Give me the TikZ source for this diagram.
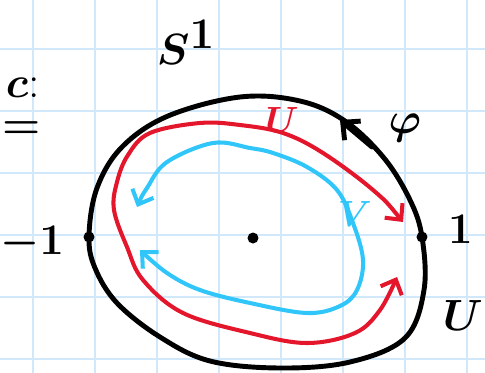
\documentclass[tikz,border=0pt]{standalone}
\usepackage{xcolor}
\usepackage{tikz}
\usepackage{amsmath}
\usetikzlibrary{
    arrows.meta,
    positioning
}
\definecolor{penred}{RGB}{228,22,44}
\definecolor{penblue}{RGB}{48,198,250}
\definecolor{gridblue}{RGB}{208,232,250}

\begin{document}
\begin{tikzpicture}[
    x=0.02cm, y=-0.02cm,
    paper/.style={draw=gridblue, line width=1.1pt},
    pen/.style={line width=2.8pt, line cap=round, line join=round},
    thinpen/.style={line width=2.3pt, line cap=round, line join=round},
    barbs/.style={-{Straight Barb[length=2.6mm, width=5mm]}},
    twobarbs/.style={{Straight Barb[length=2.4mm, width=4.6mm]}-{Straight Barb[length=2.4mm, width=4.6mm]}},
    ptdot/.style={circle, fill=black, inner sep=0pt, minimum size=0.22cm},
    hand/.style={font=\fontsize{26}{30}\selectfont\boldmath}
]
\useasboundingbox (0,0) rectangle (485,373);

\foreach \gx in {33,95,...,467}
    \draw[paper] (\gx,0) -- (\gx,373);
\foreach \gy in {49,111,...,359}
    \draw[paper] (0,\gy) -- (485,\gy);

\draw[pen] plot[smooth cycle, tension=0.6] coordinates {
    (89,236) (97,188) (122,147) (168,116) (240,97) (300,101) (345,121)
    (384,158) (410,200) (422,237) (424,290) (405,338) (350,362)
    (280,368) (210,361) (160,337) (117,303) (95,268)};
\draw[pen, barbs] (372,147) -- (340,120);

\draw[thinpen, penred, twobarbs] plot[smooth, tension=0.6] coordinates {
    (403,222) (373,190) (323,153) (283,133) (240,125) (200,123) (150,133)
    (128,155) (117,182) (114,210) (127,247) (143,280) (183,313)
    (250,333) (307,343) (355,333) (380,310) (397,277)};

\draw[thinpen, penblue, twobarbs] plot[smooth, tension=0.6] coordinates {
    (137,207) (147,188) (167,162) (213,143) (250,148) (273,153) (307,167)
    (337,190) (353,223) (363,260) (357,290) (340,306) (307,313)
    (250,303) (200,290) (167,273) (140,250)};

\node[ptdot] (mone) at (89,237) {};
\node[ptdot] (pone) at (422,237) {};
\node[ptdot] (origin) at (253,238) {};

\node[hand, left=0.26cm of mone, yshift=-0.12cm] (mlabel) {$-1$};
\node[hand, right=0.28cm of pone, yshift=0.16cm] (plabel) {$1$};
\node[font=\fontsize{44}{48}\selectfont\boldmath] (circle) at (186,42) {$S^1$};
\node[hand] (angle) at (405,128) {$\varphi$};
\node[font=\fontsize{22}{26}\selectfont\boldmath, penred] (ulabel) at (282,120) {$U$};
\node[font=\fontsize{22}{26}\selectfont\boldmath, penblue] (vlabel) at (355,214) {$V$};
\node[hand, anchor=east, inner sep=1pt] (edge) at (485,316) {$U$};
\node[hand, anchor=east] (colon) at (46,88) {$c$:};
\node[hand, anchor=west, inner sep=1pt] (equals) at (0,130) {$=$};
\end{tikzpicture}
\end{document}
